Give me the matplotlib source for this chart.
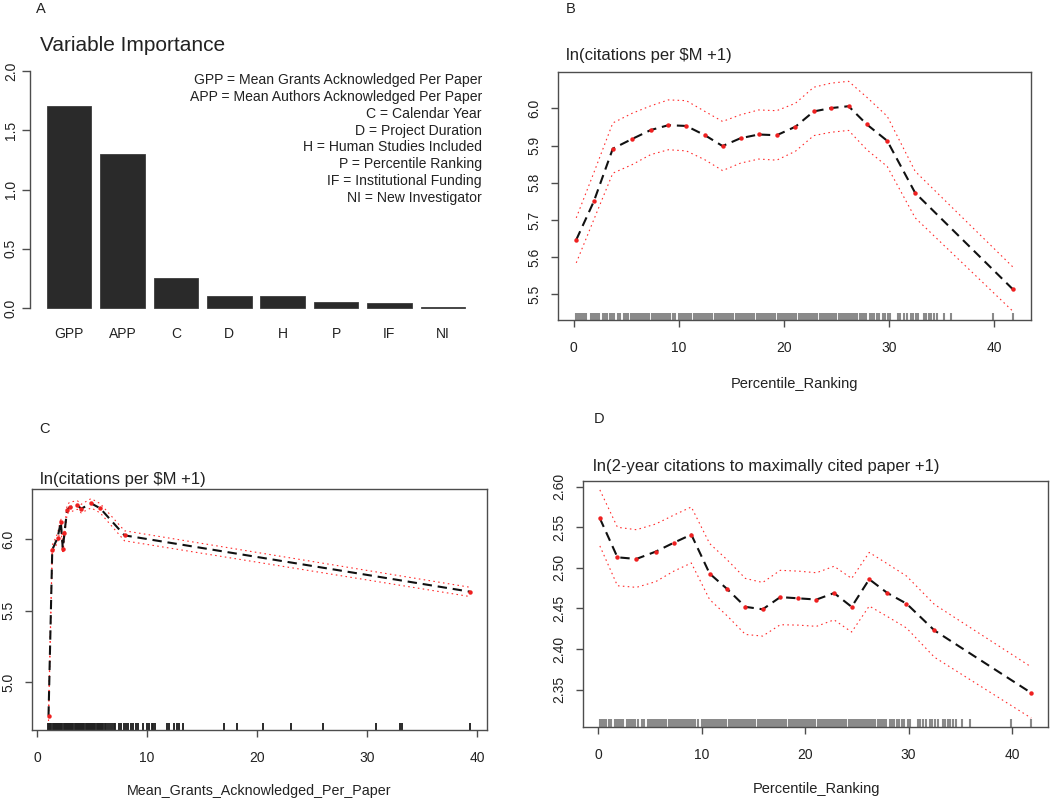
import matplotlib
matplotlib.use("Agg")
import matplotlib.pyplot as plt
import numpy as np

plt.rcParams['font.family'] = ['Liberation Sans', 'DejaVu Sans']

# ---------------- data ----------------
# Panel A: variable importance
imp_labels = ["GPP", "APP", "C", "D", "H", "P", "IF", "NI"]
imp_values = [1.705, 1.30, 0.253, 0.104, 0.100, 0.053, 0.040, 0.010]
legend_lines = [
    "GPP = Mean Grants Acknowledged Per Paper",
    "APP = Mean Authors Acknowledged Per Paper",
    "C = Calendar Year",
    "D = Project Duration",
    "H = Human Studies Included",
    "P = Percentile Ranking",
    "IF = Institutional Funding",
    "NI = New Investigator",
]

# Panel B: ln(citations per $M +1) vs Percentile_Ranking
b_x = [0.23, 1.9, 3.71, 5.55, 7.32, 9.0, 10.7, 12.48, 14.16, 15.87, 17.6, 19.32,
       21.1, 22.84, 24.48, 26.16, 27.9, 29.84, 32.5, 41.8]
b_mean = [5.647, 5.750, 5.892, 5.918, 5.942, 5.955, 5.953, 5.928, 5.899, 5.920, 5.930,
          5.928, 5.951, 5.992, 6.001, 6.006, 5.957, 5.913, 5.773, 5.514]
b_upper = [5.706, 5.827, 5.961, 5.987, 6.007, 6.023, 6.021, 5.992, 5.965, 5.983, 5.996,
           5.994, 6.014, 6.057, 6.068, 6.073, 6.030, 5.979, 5.831, 5.574]
b_lower = [5.585, 5.701, 5.826, 5.849, 5.876, 5.889, 5.886, 5.862, 5.833, 5.853, 5.864,
           5.861, 5.885, 5.927, 5.936, 5.941, 5.889, 5.844, 5.706, 5.455]

# Panel C: ln(citations per $M +1) vs Mean_Grants_Acknowledged_Per_Paper
c_x = [1.03, 1.37, 1.85, 2.15, 2.33, 2.48, 2.72, 2.95, 3.65, 4.0, 4.9, 5.73, 7.94, 39.36]
c_mean = [4.767, 5.927, 6.011, 6.121, 5.932, 6.046, 6.205, 6.224, 6.240, 6.214, 6.252,
          6.217, 6.028, 5.634]
c_upper = [4.80, 5.96, 6.04, 6.15, 5.96, 6.08, 6.24, 6.26, 6.27, 6.245, 6.285, 6.25,
           6.06, 5.665]
c_lower = [4.73, 5.90, 5.98, 6.09, 5.90, 6.01, 6.18, 6.19, 6.21, 6.185, 6.22, 6.185,
           5.99, 5.60]

# Panel D: ln(2-year citations to maximally cited paper +1) vs Percentile_Ranking
d_x = [0.16, 1.86, 3.69, 5.55, 7.31, 9.0, 10.77, 12.46, 14.23, 15.9, 17.6, 19.35,
       21.1, 22.8, 24.5, 26.2, 27.96, 29.8, 32.5, 41.86]
d_mean = [2.561, 2.513, 2.511, 2.520, 2.531, 2.541, 2.493, 2.474, 2.452, 2.449, 2.464,
          2.4625, 2.461, 2.469, 2.452, 2.486, 2.469, 2.456, 2.423, 2.346]
d_upper = [2.596, 2.550, 2.547, 2.554, 2.565, 2.575, 2.530, 2.510, 2.487, 2.482, 2.497,
           2.496, 2.494, 2.502, 2.487, 2.519, 2.505, 2.490, 2.455, 2.378]
d_lower = [2.527, 2.478, 2.476, 2.483, 2.496, 2.506, 2.461, 2.441, 2.418, 2.416, 2.430,
           2.4295, 2.428, 2.436, 2.421, 2.453, 2.440, 2.426, 2.390, 2.315]

# Rug: observed Percentile_Ranking values (panels B and D)
percentile_rug = [
    0.2, 0.4, 0.6, 0.8, 1.0, 1.2, 1.6, 1.8, 2.0, 2.2, 2.4, 2.8, 3.0, 3.2, 3.4, 3.6, 3.8,
    4.2, 4.4, 4.8, 5.0, 5.2, 5.4, 5.6, 5.8, 6.0, 6.2, 6.4, 6.6, 6.8, 7.0, 7.2, 7.4, 7.6,
    7.8, 8.0, 8.2, 8.4, 8.6, 8.8, 9.0, 9.2, 9.4, 9.6, 10.0, 10.2, 10.4, 10.6, 10.8, 11.0,
    11.2, 11.4, 11.6, 11.8, 12.0, 12.2, 12.4, 12.6, 12.8, 13.0, 13.2, 13.4, 13.6, 13.8,
    14.0, 14.2, 14.4, 14.6, 14.8, 15.0, 15.2, 15.4, 15.6, 15.8, 16.0, 16.2, 16.4, 16.6,
    16.8, 17.0, 17.2, 17.4, 17.6, 17.8, 18.0, 18.2, 18.4, 18.6, 18.8, 19.0, 19.2, 19.4,
    19.6, 19.8, 20.0, 20.2, 20.4, 20.6, 20.8, 21.0, 21.2, 21.4, 21.6, 21.8, 22.0, 22.2,
    22.4, 22.6, 22.8, 23.0, 23.2, 23.4, 23.6, 23.8, 24.0, 24.2, 24.4, 24.6, 24.8, 25.0,
    25.2, 25.4, 25.6, 25.8, 26.0, 26.2, 26.4, 26.6, 26.8, 27.0, 27.2, 27.4, 27.6, 27.8,
    28.2, 28.4, 28.6, 28.9, 29.1, 29.4, 29.6, 29.9, 30.1, 30.9, 31.1, 31.4, 31.7, 32.1,
    32.3, 32.6, 32.8, 33.3, 33.5, 33.8, 34.0, 34.3, 34.6, 35.2, 35.9, 39.9, 41.8,
]
# Rug: observed Mean_Grants_Acknowledged_Per_Paper values (panel C)
grants_rug = [
    1.0, 1.1, 1.2, 1.3, 1.4, 1.5, 1.6, 1.7, 1.8, 1.9, 2.0, 2.1, 2.2, 2.3, 2.4, 2.5, 2.6,
    2.7, 2.8, 2.9, 3.0, 3.1, 3.2, 3.3, 3.4, 3.5, 3.6, 3.7, 3.8, 3.9, 4.0, 4.1, 4.2, 4.3,
    4.4, 4.5, 4.6, 4.7, 4.8, 4.9, 5.0, 5.1, 5.2, 5.3, 5.4, 5.5, 5.6, 5.7, 5.8, 5.9, 6.0,
    6.15, 6.3, 6.45, 6.6, 6.8, 7.0, 7.1, 7.4, 7.6, 7.85, 8.1, 8.3, 8.5, 8.7, 9.0, 9.2,
    9.6, 10.0, 10.2, 10.4, 10.55, 10.7, 11.8, 12.0, 12.45, 12.7, 12.9, 13.3, 17.0, 18.15,
    20.5, 23.06, 26.0, 30.8, 33.0, 33.2, 39.36,
]

# ---------------- layout helpers ----------------
W, H = 1050, 798
fig = plt.figure(figsize=(W / 100, H / 100), dpi=100)
TXT = '#222222'
SPINE = '#4d4d4d'


def add_axes_px(l, t, r, b):
    return fig.add_axes([l / W, 1 - b / H, (r - l) / W, (b - t) / H])


def ftext(x, y, s, **kw):
    kw.setdefault('color', TXT)
    fig.text(x / W, 1 - y / H, s, **kw)


def style_box(ax):
    for sp in ax.spines.values():
        sp.set_color(SPINE)
        sp.set_linewidth(1.0)
    ax.tick_params(axis='both', colors=SPINE, labelcolor=TXT, labelsize=10,
                   length=5, width=1.0, direction='out')
    ax.tick_params(axis='x', pad=10)
    ax.tick_params(axis='y', pad=7)
    for lab in ax.get_yticklabels():
        lab.set_rotation(90)
        lab.set_va('center')


def dependence(ax, x, mean, upper, lower, rug, rug_color, rug_lw):
    ax.vlines(rug, 0, 0.03, transform=ax.get_xaxis_transform(),
              colors=rug_color, linewidth=rug_lw)
    for band in (upper, lower):
        ax.plot(x, band, color='#ff2b2b', linewidth=0.8, dashes=(1.4, 3.0))
    ax.plot(x, mean, color='#111111', linewidth=1.5, dashes=(4.5, 2.8))
    ax.plot(x, mean, linestyle='none', marker='o', markersize=3.2,
            color='#ee2020', markeredgewidth=0)


# ---------------- Panel A ----------------
axA = add_axes_px(30.3, 61.5, 481.7, 317.5)
bar_pos = np.arange(len(imp_values)) * 1.2 + 0.7
axA.bar(bar_pos, imp_values, width=1.0, color='#2a2a2a', edgecolor='#3c3c3c',
        linewidth=0.6)
axA.set_xlim(-0.176, 9.976)
axA.set_ylim(-0.08, 2.08)
axA.set_yticks([0.0, 0.5, 1.0, 1.5, 2.0])
axA.set_yticklabels(["0.0", "0.5", "1.0", "1.5", "2.0"])
axA.set_xticks(bar_pos)
axA.set_xticklabels(imp_labels)
for s in ('top', 'right', 'bottom'):
    axA.spines[s].set_visible(False)
axA.spines['left'].set_bounds(0, 2)
style_box(axA)
axA.tick_params(axis='x', length=0, pad=7)
axA.tick_params(axis='y', length=6, pad=3)
for i, line in enumerate(legend_lines):
    ftext(482, 80 + i * 16.86, line, ha='right', va='center', fontsize=10.1)
ftext(36, 13, "A", fontsize=10.5, va='baseline')
ftext(40, 51, "Variable Importance", fontsize=15, va='baseline')

# ---------------- Panel B ----------------
axB = add_axes_px(558, 72, 1031, 320.5)
dependence(axB, b_x, b_mean, b_upper, b_lower, percentile_rug, '#8a8a8a', 1.5)
axB.set_xlim(-1.51, 43.53)
axB.set_ylim(5.430, 6.098)
axB.set_xticks([0, 10, 20, 30, 40])
axB.set_yticks([5.5, 5.6, 5.7, 5.8, 5.9, 6.0])
axB.set_yticklabels(["5.5", "5.6", "5.7", "5.8", "5.9", "6.0"])
style_box(axB)
ftext(566, 13, "B", fontsize=10.5, va='baseline')
ftext(566, 60, "ln(citations per $M +1)", fontsize=12, va='baseline')
ftext(795, 388, "Percentile_Ranking", fontsize=10.5, ha='center', va='baseline')

# ---------------- Panel C ----------------
axC = add_axes_px(31.7, 489.3, 487, 730)
dependence(axC, c_x, c_mean, c_upper, c_lower, grants_rug, '#222222', 1.35)
axC.set_xlim(-0.50, 40.9)
axC.set_ylim(4.667, 6.350)
axC.set_xticks([0, 10, 20, 30, 40])
axC.set_yticks([5.0, 5.5, 6.0])
axC.set_yticklabels(["5.0", "5.5", "6.0"])
style_box(axC)
ftext(39, 433, "C", fontsize=10.5, va='baseline')
ftext(40, 484, "ln(citations per $M +1)", fontsize=12, va='baseline')
ftext(259, 795, "Mean_Grants_Acknowledged_Per_Paper", fontsize=10.3, ha='center',
      va='baseline')

# ---------------- Panel D ----------------
axD = add_axes_px(582.6, 481, 1048.5, 726.7)
dependence(axD, d_x, d_mean, d_upper, d_lower, percentile_rug, '#8a8a8a', 1.5)
axD.set_xlim(-1.51, 43.53)
axD.set_ylim(2.3044, 2.607)
axD.set_xticks([0, 10, 20, 30, 40])
axD.set_yticks([2.35, 2.40, 2.45, 2.50, 2.55, 2.60])
axD.set_yticklabels(["2.35", "2.40", "2.45", "2.50", "2.55", "2.60"])
style_box(axD)
ftext(594, 423, "D", fontsize=10.5, va='baseline')
ftext(593, 471, "ln(2-year citations to maximally cited paper +1)", fontsize=12,
      va='baseline')
ftext(817, 793, "Percentile_Ranking", fontsize=10.5, ha='center', va='baseline')

fig.savefig("out.png", dpi=100)
